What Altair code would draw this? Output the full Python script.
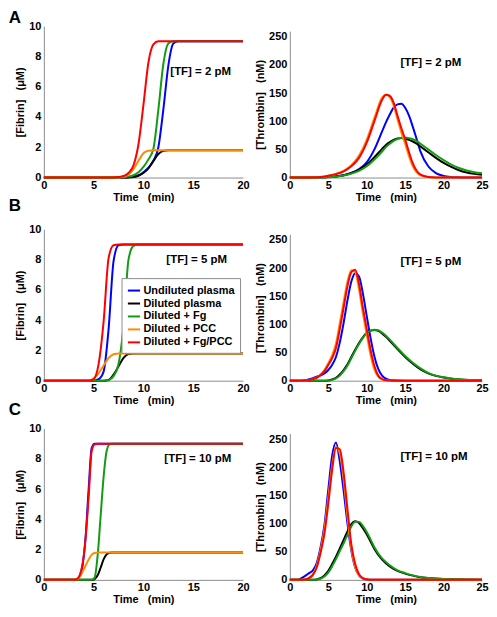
import altair as alt
import pandas as pd

FONT = "Liberation Sans"
SERIES = ["Undiluted plasma", "Diluted plasma", "Diluted + Fg", "Diluted + PCC", "Diluted + Fg/PCC"]
COLORS = ["#0000ff", "#000000", "#139c13", "#ff8c00", "#ff0000"]

PANEL_LETTERS = ["A", "B", "C"]
TF_LABELS = ["[TF] = 2 pM", "[TF] = 5 pM", "[TF] = 10 pM"]
FIB_LABEL_POS = [(12.7, 7.0), (12.3, 7.95), (12.1, 8.0)]
THR_LABEL_POS = [(14.4, 204), (14.4, 211), (14.4, 219)]
FIB_TICKS = [0, 2, 4, 6, 8, 10]
THR_TICKS = [0, 50, 100, 150, 200, 250]
FIB_TIME_TICKS = [0, 5, 10, 15, 20]
THR_TIME_TICKS = [0, 5, 10, 15, 20, 25]
SP = "\u00a0\u00a0\u00a0"
X_TITLE = "Time" + SP + "(min)"
FIB_TITLE = "[Fibrin]" + SP + "(\u03bcM)"
THR_TITLE = "[Thrombin]" + SP + "(nM)"

# ---------- Row A : [TF] = 2 pM ----------
T_FIB_A = [0, 7, 7.5, 8, 8.5, 9, 9.5, 10, 10.5, 11, 11.5, 12, 12.5, 13, 13.5, 14, 20]
FIB_A_BLUE = [0, 0, 0, 0, 0.02, 0.06, 0.15, 0.35, 0.65, 1.1, 2.0, 4.5, 7.4, 8.85, 9, 9, 9]
FIB_A_BLACK = [0, 0, 0, 0, 0.01, 0.04, 0.12, 0.3, 0.6, 1.1, 1.55, 1.76, 1.8, 1.8, 1.8, 1.8, 1.8]
FIB_A_GREEN = [0, 0, 0, 0.02, 0.06, 0.15, 0.35, 0.7, 1.2, 1.9, 4.5, 7.5, 8.85, 9, 9, 9, 9]
FIB_A_ORANGE = [0, 0, 0.01, 0.05, 0.2, 0.55, 1.1, 1.6, 1.77, 1.8, 1.8, 1.8, 1.8, 1.8, 1.8, 1.8, 1.8]
FIB_A_RED = [0, 0, 0.03, 0.1, 0.3, 0.8, 2.2, 4.8, 7.6, 8.8, 9, 9, 9, 9, 9, 9, 9]

T_THR_A = [0, 2, 4, 5, 6, 7, 8, 9, 10, 11, 12, 12.5, 13, 13.5, 14, 14.5, 15, 15.5, 16, 16.5, 17, 18, 19, 20, 21, 22, 23, 24, 25]
THR_A_BLUE = [0, 0, 0.5, 1, 2, 4, 8, 15, 27, 50, 82, 98, 112, 124, 130, 131, 124, 110, 90, 68, 46, 20, 8, 3, 1, 0.3, 0, 0, 0]
THR_A_BLACK = [0, 0, 0.3, 0.8, 2, 4, 8, 14, 23, 36, 51, 58, 63, 67, 69.5, 70, 69, 67, 64, 60, 55, 45, 35, 26, 19, 13, 9, 6.5, 5]
THR_A_GREEN = [0, 0, 0.2, 0.6, 1.5, 3.5, 7, 12, 20, 32, 46, 54, 60, 65, 68.5, 70.5, 71, 70, 68, 64.5, 60, 50, 40, 31, 23, 17, 12.5, 9.5, 7.5]
THR_A_ORANGE = [0, 0.2, 1, 3, 6.5, 12, 22, 39, 67, 106, 142, 147, 143, 128, 104, 80, 60, 38, 20, 9, 4, 1, 0.2, 0, 0, 0, 0, 0, 0]
THR_A_RED = [0, 0.2, 1, 3, 6, 11, 20, 35, 62, 100, 138, 147, 145, 133, 110, 88, 68, 45, 25, 12, 5, 1, 0.2, 0, 0, 0, 0, 0, 0]

# ---------- Row B : [TF] = 5 pM ----------
T_FIB_B = [0, 4.5, 5, 5.5, 6, 6.5, 7, 7.5, 8, 8.5, 9, 9.5, 20]
FIB_B_BLUE = [0, 0, 0, 0.1, 0.6, 3.4, 7.9, 8.95, 9, 9, 9, 9, 9]
FIB_B_BLACK = [0, 0, 0, 0, 0, 0.05, 0.4, 0.95, 1.5, 1.77, 1.8, 1.8, 1.8]
FIB_B_GREEN = [0, 0, 0, 0, 0, 0.05, 0.3, 1.1, 3.6, 8.0, 8.9, 9, 9]
FIB_B_ORANGE = [0, 0, 0.15, 0.5, 1.0, 1.5, 1.75, 1.8, 1.8, 1.8, 1.8, 1.8, 1.8]
FIB_B_RED = [0, 0, 0.1, 1.1, 3.9, 8.1, 8.95, 9, 9, 9, 9, 9, 9]

T_THR_B = [0, 1, 2, 3, 3.5, 4, 4.5, 5, 5.5, 6, 6.5, 7, 7.5, 8, 8.5, 9, 9.5, 10, 10.5, 11, 11.5, 12, 12.5, 13, 14, 15, 16, 17, 18, 19, 20, 21, 22, 23, 24, 25]
THR_B_BLUE = [0, 0, 1, 4.5, 7, 9.5, 13, 19, 28, 42, 68, 103, 143, 176, 191, 185, 155, 115, 76, 43, 21, 9, 3.5, 1.2, 0.2, 0, 0, 0, 0, 0, 0, 0, 0, 0, 0, 0]
THR_B_BLACK = [0, 0, 0, 0, 0, 0, 0, 0.5, 2, 5, 11, 19, 29, 42, 55, 67, 77, 85, 89, 90, 88.5, 84, 78, 71, 56, 42, 30, 20, 13, 8.5, 5.5, 3.5, 2.2, 1.4, 0.9, 0.6]
THR_B_GREEN = [0, 0, 0, 0, 0, 0, 0, 0.3, 1.5, 4, 9, 17, 27, 40, 53, 65, 76, 84, 89, 90.5, 89.5, 85.5, 80, 73, 58, 44, 32, 22, 14, 9, 6, 4, 2.5, 1.6, 1, 0.7]
THR_B_ORANGE = [0, 0, 0.3, 2.8, 5.5, 11, 19, 31, 45, 66, 102, 140, 176, 196, 193, 162, 120, 82, 46, 20, 7, 2, 0.7, 0.2, 0, 0, 0, 0, 0, 0, 0, 0, 0, 0, 0, 0]
THR_B_RED = [0, 0, 0.3, 2.5, 5, 10, 17, 28, 40, 58, 92, 130, 168, 193, 197, 172, 130, 92, 55, 26, 9, 3, 1, 0.3, 0, 0, 0, 0, 0, 0, 0, 0, 0, 0, 0, 0]

# ---------- Row C : [TF] = 10 pM ----------
T_FIB_C = [0, 3, 3.3, 3.6, 3.9, 4.2, 4.5, 4.8, 5.1, 5.4, 5.7, 6.0, 6.3, 6.6, 6.9, 7.2, 20]
FIB_C_BLUE = [0, 0, 0.03, 0.25, 1.0, 2.9, 6.0, 8.7, 9, 9, 9, 9, 9, 9, 9, 9, 9]
FIB_C_BLACK = [0, 0, 0, 0, 0, 0, 0, 0, 0.05, 0.3, 0.8, 1.35, 1.68, 1.79, 1.8, 1.8, 1.8]
FIB_C_GREEN = [0, 0, 0, 0, 0, 0, 0, 0, 0.15, 1.6, 4.2, 6.8, 8.5, 8.95, 9, 9, 9]
FIB_C_ORANGE = [0, 0, 0.03, 0.2, 0.55, 0.95, 1.35, 1.65, 1.77, 1.8, 1.8, 1.8, 1.8, 1.8, 1.8, 1.8, 1.8]
FIB_C_RED = [0, 0, 0.05, 0.3, 1.1, 2.8, 5.5, 8.5, 8.95, 9, 9, 9, 9, 9, 9, 9, 9]

T_THR_C = [0, 1, 1.5, 2, 2.5, 3, 3.5, 4, 4.5, 5, 5.5, 6, 6.5, 7, 7.5, 8, 8.5, 9, 9.5, 10, 10.5, 11, 12, 13, 14, 15, 16, 17, 18, 20, 22, 25]
THR_C_BLUE = [0, 0, 3, 7, 12, 17, 30, 58, 97, 160, 220, 244, 210, 158, 100, 52, 22, 8, 2.5, 0.7, 0.2, 0, 0, 0, 0, 0, 0, 0, 0, 0, 0, 0]
THR_C_BLACK = [0, 0, 0, 0, 0, 0, 0.8, 3, 8, 16, 28, 41, 56, 71, 86, 99, 104, 101, 92, 81, 68, 55, 36, 24, 16, 11, 7.5, 4.8, 3.2, 1.4, 0.5, 0.2]
THR_C_GREEN = [0, 0, 0, 0, 0, 0, 0.5, 2, 6, 13, 24, 37, 51, 65, 80, 95, 103, 103, 96, 85, 72, 58, 38, 26, 17, 12, 8, 5, 3.5, 1.5, 0.6, 0.2]
THR_C_ORANGE = [0, 0, 0, 0.6, 3.5, 10, 25, 53, 90, 145, 203, 236, 225, 178, 112, 55, 23, 8, 2.5, 0.8, 0.2, 0, 0, 0, 0, 0, 0, 0, 0, 0, 0, 0]
THR_C_RED = [0, 0, 0, 0.5, 3, 9, 22, 48, 82, 135, 195, 234, 232, 190, 125, 63, 28, 10, 3, 1, 0.3, 0, 0, 0, 0, 0, 0, 0, 0, 0, 0, 0]

FIB_ROWS = [
    (T_FIB_A, [FIB_A_BLUE, FIB_A_BLACK, FIB_A_GREEN, FIB_A_ORANGE, FIB_A_RED]),
    (T_FIB_B, [FIB_B_BLUE, FIB_B_BLACK, FIB_B_GREEN, FIB_B_ORANGE, FIB_B_RED]),
    (T_FIB_C, [FIB_C_BLUE, FIB_C_BLACK, FIB_C_GREEN, FIB_C_ORANGE, FIB_C_RED]),
]
THR_ROWS = [
    (T_THR_A, [THR_A_BLUE, THR_A_BLACK, THR_A_GREEN, THR_A_ORANGE, THR_A_RED]),
    (T_THR_B, [THR_B_BLUE, THR_B_BLACK, THR_B_GREEN, THR_B_ORANGE, THR_B_RED]),
    (T_THR_C, [THR_C_BLUE, THR_C_BLACK, THR_C_GREEN, THR_C_ORANGE, THR_C_RED]),
]

LW, LH = 200, 152
RW, RH = 193, 152
TITLE_OFFSETS = [-7, 8, 4]


def long_df(t, series_vals):
    rows = []
    for k, (name, vals) in enumerate(zip(SERIES, series_vals)):
        for ti, vi in zip(t, vals):
            rows.append({"t": ti, "v": vi, "series": name, "k": k})
    return pd.DataFrame(rows)


def axis(values, title):
    return alt.Axis(values=values, title=title, labelOverlap=False, labelFlush=False,
                    labelBound=False)


def color_enc(show_legend):
    if show_legend:
        leg = alt.Legend(
            orient="none", legendX=78, legendY=49, title=None,
            symbolType="stroke", symbolStrokeWidth=2, symbolSize=150,
            labelFontSize=11, labelFontWeight="bold", labelFont=FONT, labelColor="black",
            fillColor="white", strokeColor="#8c8c8c", padding=5, rowPadding=0,
            labelOffset=2, labelLimit=200,
        )
    else:
        leg = None
    return alt.Color("series:N", scale=alt.Scale(domain=SERIES, range=COLORS), legend=leg,
                     sort=SERIES)


def make_panel(t, vals, xdom, ydom, yrange, xt, yt, ytitle, ann_pos, ann_text, show_legend, w, h):
    df = long_df(t, vals)
    xs = alt.Scale(domain=xdom, nice=False)
    ys = alt.Scale(domain=ydom, nice=False, range=yrange) if yrange else alt.Scale(domain=ydom, nice=False)
    xa = axis(xt, X_TITLE)
    ya = axis(yt, ytitle)
    lines = alt.Chart(df).mark_line(strokeWidth=2, interpolate="monotone").encode(
        x=alt.X("t:Q", scale=xs, axis=xa),
        y=alt.Y("v:Q", scale=ys, axis=ya),
        color=color_enc(show_legend),
        order=alt.Order("t:Q"),
    )
    ann = alt.Chart(pd.DataFrame({"t": [ann_pos[0]], "v": [ann_pos[1]], "label": [ann_text]})).mark_text(
        align="left", baseline="middle", fontSize=11.5, fontWeight="bold", font=FONT, color="black"
    ).encode(x=alt.X("t:Q", scale=xs, axis=xa), y=alt.Y("v:Q", scale=ys, axis=ya), text="label:N")
    return alt.layer(lines, ann).properties(width=w, height=h)


def fib_panel(i):
    t, vals = FIB_ROWS[i]
    p = make_panel(t, vals, [0, 20], [0, 10], None, FIB_TIME_TICKS, FIB_TICKS, FIB_TITLE,
                   FIB_LABEL_POS[i], TF_LABELS[i], i == 1, LW, LH)
    return p.properties(
        title=alt.TitleParams(PANEL_LETTERS[i], anchor="start", frame="bounds", fontSize=17,
                              fontWeight="bold", font=FONT, color="black",
                              offset=TITLE_OFFSETS[i], dx=-6),
    )


def thr_panel(i):
    t, vals = THR_ROWS[i]
    return make_panel(t, vals, [0, 25], [0, 260], [RH, 5], THR_TIME_TICKS, THR_TICKS, THR_TITLE,
                      THR_LABEL_POS[i], TF_LABELS[i], False, RW, RH)


rows = []
for i in range(3):
    rows.append(alt.hconcat(fib_panel(i), thr_panel(i), spacing=4).resolve_scale(color="independent"))

chart = alt.vconcat(*rows, spacing=-5).resolve_scale(color="independent").properties(
    padding=0
).configure_axis(
    domainColor="#8c8c8c", domainWidth=1, grid=False, ticks=False,
    labelFont=FONT, labelFontSize=11, labelFontWeight="bold", labelColor="black",
    titleFont=FONT, titleFontSize=11, titleFontWeight="bold", titleColor="black",
).configure_axisX(
    labelPadding=2, titlePadding=1,
).configure_axisY(
    labelPadding=3, titlePadding=3,
).configure_view(stroke=None)

chart.save("out.html", embed_options={"renderer": "svg", "actions": False})
